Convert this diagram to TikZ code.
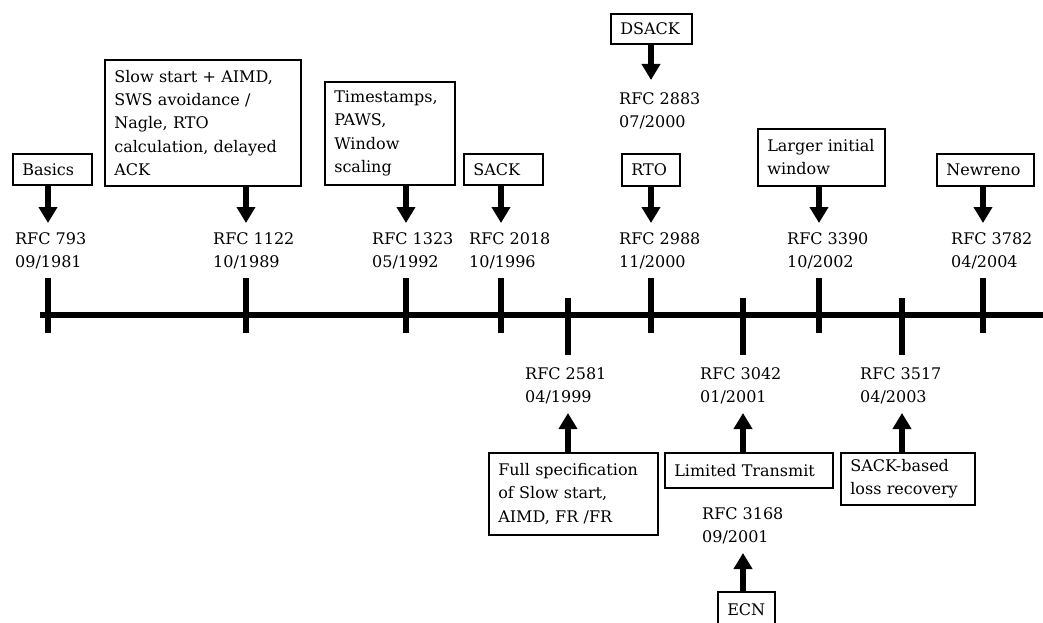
\documentclass[tikz,border=0pt]{standalone}
\usepackage{fontspec}
\setmainfont{DejaVu Serif}
\usetikzlibrary{arrows.meta,calc}
\begin{document}
\begin{tikzpicture}[x=1pt,y=-1pt,
  every node/.style={font=\fontsize{16}{23.3}\selectfont, inner sep=0pt},
  box/.style={draw, line width=1.6pt, align=left, inner xsep=9.5pt, inner ysep=0pt, anchor=north west},
  lbl/.style={align=left, anchor=north west},
  bar/.style={line width=6pt},
  arr/.style={line width=6pt, -{Triangle[length=16pt,width=18pt]}}]
\clip (0,0) rectangle (1043,623);

% time axis and tick positions
\coordinate (a0) at (40,315);
\coordinate (a1) at (1043,315);
\coordinate (tA) at (48,315);
\coordinate (tB) at (246,315);
\coordinate (tC) at (406,315);
\coordinate (tD) at (501,315);
\coordinate (tE) at (651,315);
\coordinate (tF) at (819,315);
\coordinate (tG) at (983,315);
\coordinate (lA) at (568,315);
\coordinate (lB) at (743,315);
\coordinate (lC) at (902,315);

\draw[bar] (a0) -- (a1);
\foreach \t in {tA,tB,tC,tD,tE,tF,tG}
  \draw[bar] ($(\t)+(0,-37)$) -- ($(\t)+(0,18)$);
\foreach \t in {lA,lB,lC}
  \draw[bar] ($(\t)+(0,-17)$) -- ($(\t)+(0,40)$);

% RFC labels
\node[lbl] (l793)  at (15,232)  {RFC 793\\09/1981};
\node[lbl] (l1122) at (213,232) {RFC 1122\\10/1989};
\node[lbl] (l1323) at (372,232) {RFC 1323\\05/1992};
\node[lbl] (l2018) at (469,232) {RFC 2018\\10/1996};
\node[lbl] (l2883) at (619,92)  {RFC 2883\\07/2000};
\node[lbl] (l2988) at (619,232) {RFC 2988\\11/2000};
\node[lbl] (l3390) at (787,232) {RFC 3390\\10/2002};
\node[lbl] (l3782) at (951,232) {RFC 3782\\04/2004};
\node[lbl] (l2581) at (525,367) {RFC 2581\\04/1999};
\node[lbl] (l3042) at (700,367) {RFC 3042\\01/2001};
\node[lbl] (l3517) at (860,367) {RFC 3517\\04/2003};
\node[lbl] (l3168) at (702,507) {RFC 3168\\09/2001};

% feature boxes
\node[box, text width=60pt,  minimum height=31pt]  (basics)  at (12,153)  {Basics};
\node[box, text width=177pt, minimum height=126pt] (slow)    at (104,59)  {Slow start + AIMD,\\SWS avoidance /\\Nagle, RTO\\calculation, delayed\\ACK};
\node[box, text width=111pt, minimum height=103pt] (ts)      at (324,81)  {Timestamps,\\PAWS,\\Window\\scaling};
\node[box, text width=60pt,  minimum height=31pt]  (sack)    at (463,153) {SACK};
\node[box, text width=62pt,  minimum height=30pt]  (dsack)   at (610,13)  {DSACK};
\node[box, text width=39pt,  minimum height=32pt]  (rto)     at (621,153) {RTO};
\node[box, text width=108pt, minimum height=57pt]  (larger)  at (757,128) {Larger initial\\window};
\node[box, text width=78pt,  minimum height=32pt]  (newreno) at (936,153) {Newreno};
\node[box, text width=150pt, minimum height=82pt]  (full)    at (488,452) {Full specification\\of Slow start,\\AIMD, FR /FR};
\node[box, text width=149pt, minimum height=35pt]  (limited) at (664,452) {Limited Transmit};
\node[box, text width=115pt, minimum height=52pt]  (sackb)   at (840,452) {SACK-based\\loss recovery};
\node[box, text width=38pt,  minimum height=36pt]  (ecn)     at (717,591) {ECN};

% arrows from features to RFCs
\draw[arr] (basics.south -| tA)  -- ($(l793.north -| tA)+(0,-9)$);
\draw[arr] (slow.south -| tB)    -- ($(l1122.north -| tB)+(0,-9)$);
\draw[arr] (ts.south -| tC)      -- ($(l1323.north -| tC)+(0,-9)$);
\draw[arr] (sack.south -| tD)    -- ($(l2018.north -| tD)+(0,-9)$);
\draw[arr] (dsack.south -| tE)   -- ($(l2883.north -| tE)+(0,-12)$);
\draw[arr] (rto.south -| tE)     -- ($(l2988.north -| tE)+(0,-9)$);
\draw[arr] (larger.south -| tF)  -- ($(l3390.north -| tF)+(0,-9)$);
\draw[arr] (newreno.south -| tG) -- ($(l3782.north -| tG)+(0,-9)$);
\draw[arr] (full.north -| lA)    -- ($(l2581.north -| lA)+(0,46)$);
\draw[arr] (limited.north -| lB) -- ($(l3042.north -| lB)+(0,46)$);
\draw[arr] (sackb.north -| lC)   -- ($(l3517.north -| lC)+(0,46)$);
\draw[arr] (ecn.north -| lB)     -- ($(l3168.north -| lB)+(0,46)$);
\end{tikzpicture}
\end{document}
